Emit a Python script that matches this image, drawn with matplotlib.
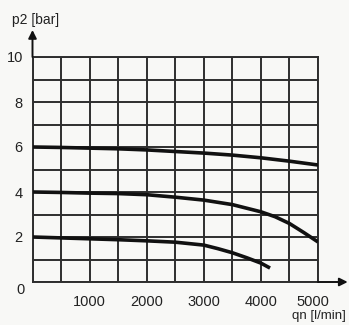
import matplotlib
matplotlib.use("Agg")
import matplotlib.pyplot as plt
import matplotlib.transforms as mtransforms
import numpy as np

plt.rcParams['font.family'] = ['Liberation Sans', 'DejaVu Sans']

# data
qn_top = [0, 500, 1000, 1500, 2000, 2500, 3000, 3500, 4000, 4500, 5000]
p2_top = [6.0, 5.98, 5.95, 5.92, 5.87, 5.8, 5.73, 5.64, 5.52, 5.37, 5.2]
qn_mid = [0, 500, 1000, 1500, 2000, 2500, 3000, 3500, 4000, 4250, 4500, 4750, 5000]
p2_mid = [4.0, 3.98, 3.95, 3.93, 3.88, 3.77, 3.64, 3.44, 3.12, 2.9, 2.6, 2.2, 1.78]
qn_bot = [0, 500, 1000, 1500, 2000, 2500, 3000, 3250, 3500, 3750, 4000, 4160]
p2_bot = [2.0, 1.96, 1.92, 1.88, 1.83, 1.77, 1.64, 1.48, 1.3, 1.08, 0.84, 0.62]
xticks = [1000, 2000, 3000, 4000, 5000]
yticks = [2, 4, 6, 8, 10]

W, H = 349, 325
fig = plt.figure(figsize=(W / 100, H / 100), dpi=100)
fig.patch.set_facecolor('#f8f8f6')
L, R, B, T = 32.5 / W, 318 / W, 1 - 282 / H, 1 - 57 / H
ax = fig.add_axes([L, B, R - L, T - B])
ax.set_facecolor('#f8f8f6')
ax.set_xlim(0, 5000)
ax.set_ylim(0, 10)

grid_c = '#2e2e2e'
ax.set_xticks(np.arange(0, 5001, 500), minor=True)
ax.set_yticks(np.arange(0, 11, 1), minor=True)
ax.set_xticks(xticks)
ax.set_xticklabels([str(v) for v in xticks])
ax.set_yticks(yticks)
ax.set_yticklabels([str(v) for v in yticks])
ax.grid(which='both', color=grid_c, lw=1.4)
ax.tick_params(which='both', length=0)
ax.tick_params(axis='x', pad=9, labelsize=10.5, colors='#222222')
ax.tick_params(axis='y', pad=7, labelsize=10.5, colors='#222222')
for s in ax.spines.values():
    s.set_color(grid_c)
    s.set_linewidth(1.4)

# shift last x label slightly left as in the reference
lab5000 = ax.get_xticklabels()[-1]
lab5000.set_transform(lab5000.get_transform() +
                      mtransforms.ScaledTranslation(-5 / 100, 0, fig.dpi_scale_trans))

for xs, ys in [(qn_top, p2_top), (qn_mid, p2_mid), (qn_bot, p2_bot)]:
    ax.plot(xs, ys, color='#111111', lw=2.6, solid_capstyle='butt', zorder=3)

# zero label
fig.text(25 / W, 1 - 290 / H, '0', ha='right', va='center',
         fontsize=10.5, color='#222222')

# axis arrows
ax.annotate('', xy=(0, 11.2), xytext=(0, 10), xycoords='data',
            arrowprops=dict(arrowstyle='-|>', color='#111111', lw=1.4,
                            mutation_scale=12, shrinkA=0, shrinkB=0),
            annotation_clip=False)
ax.annotate('', xy=(5520, 0), xytext=(5000, 0), xycoords='data',
            arrowprops=dict(arrowstyle='-|>', color='#111111', lw=1.4,
                            mutation_scale=12, shrinkA=0, shrinkB=0),
            annotation_clip=False)

fig.text(12 / W, 1 - 20 / H, 'p2 [bar]', ha='left', va='center',
         fontsize=10, color='#222222')
fig.text(346 / W, 1 - 316 / H, 'qn [l/min]', ha='right', va='center',
         fontsize=9.5, color='#222222')

fig.savefig('out.png', dpi=100, facecolor=fig.get_facecolor())
